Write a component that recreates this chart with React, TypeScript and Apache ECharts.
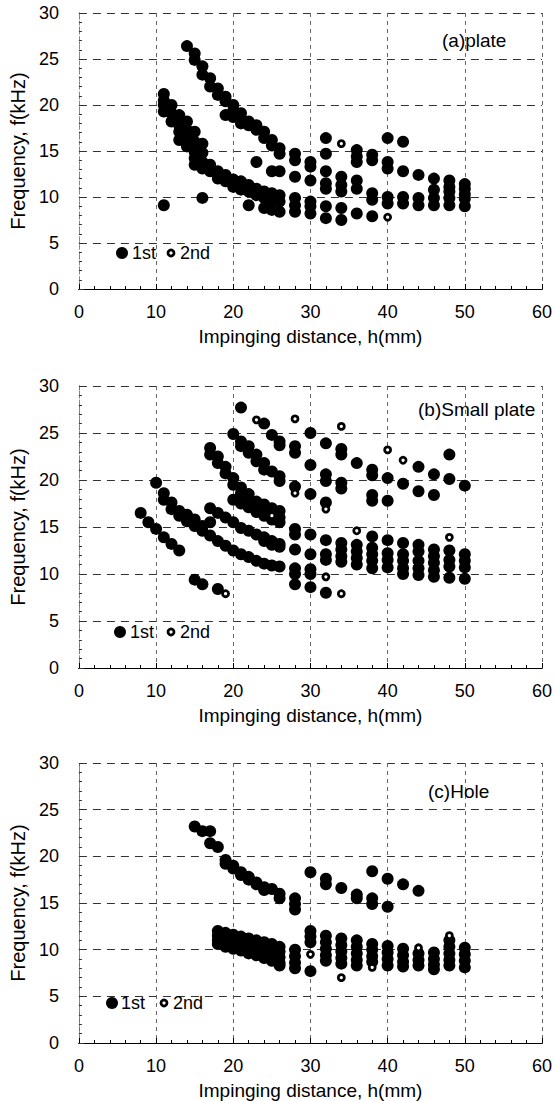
import React, { useEffect, useRef } from "react";
import * as echarts from "echarts";

type Pt = [number, number];

// ---------- data: (a) plate ----------
const aFirst: Pt[] = [
  [14, 26.4], [15, 25.6], [15, 24.9], [16, 24.2], [16, 23.3], [17, 22.9], [17, 22.0], [18, 21.8], [18, 21.1],
  [19, 20.9], [19, 20.4], [20, 20.0], [20, 19.4], [21, 19.1], [21, 18.5], [22, 18.2], [22, 17.8], [23, 17.8],
  [23, 17.3], [24, 17.1], [24, 16.4], [25, 16.2], [25, 15.6], [26, 15.3], [26, 14.7],
  [19, 18.9], [20, 18.7], [21, 18.0],
  [11, 21.2], [11, 20.5], [11, 20.0], [11, 19.3], [12, 20.0], [12, 19.1], [12, 18.2], [13, 18.9], [13, 17.8],
  [13, 17.1], [13, 16.2], [14, 18.2], [14, 17.3], [14, 16.4], [14, 15.5], [15, 17.1], [15, 16.0], [15, 14.9],
  [15, 14.2], [15, 13.5], [16, 15.8], [16, 14.8], [16, 13.8], [16, 13.1], [17, 13.5], [17, 12.8], [18, 12.8],
  [18, 12.0], [19, 12.4], [19, 11.7], [20, 11.9], [20, 11.1], [21, 11.7], [21, 10.8], [22, 11.3], [22, 10.6],
  [22, 9.1], [23, 10.9], [23, 10.2], [24, 10.6], [24, 9.9], [24, 8.8], [25, 10.4], [25, 9.7], [25, 8.6],
  [26, 10.2], [26, 9.5], [26, 8.4],
  [11, 9.1], [16, 9.9], [23, 13.8], [25, 12.8], [26, 12.8],
  [28, 14.7], [28, 14.0], [28, 12.2], [28, 9.9], [28, 9.1], [28, 8.4],
  [30, 13.8], [30, 13.3], [30, 11.8], [30, 9.5], [30, 9.0], [30, 8.2],
  [32, 16.4], [32, 14.7], [32, 12.8], [32, 11.5], [32, 10.9], [32, 9.0], [32, 7.7],
  [34, 12.2], [34, 11.3], [34, 10.6], [34, 8.8], [34, 7.5],
  [36, 15.1], [36, 14.4], [36, 13.8], [36, 11.8], [36, 10.9], [36, 8.2],
  [38, 14.6], [38, 14.0], [38, 10.4], [38, 9.7], [38, 7.9],
  [40, 16.4], [40, 13.8], [40, 13.1], [40, 10.0], [40, 9.3],
  [42, 16.0], [42, 12.8], [42, 10.0], [42, 9.3],
  [44, 12.4], [44, 9.9], [44, 9.1],
  [46, 12.0], [46, 10.8], [46, 9.9], [46, 9.1],
  [48, 11.8], [48, 11.1], [48, 10.6], [48, 9.9], [48, 9.1],
  [50, 11.4], [50, 10.9], [50, 10.3], [50, 9.8], [50, 9.0],
];
const aSecond: Pt[] = [[34, 15.8], [40, 7.8]];

// ---------- data: (b) Small plate ----------
const bFirst: Pt[] = [
  [21, 27.7], [24, 26.0], [25, 24.8], [26, 24.1], [26, 23.7],
  [20, 24.9], [21, 24.1], [21, 23.6], [22, 23.6], [22, 22.9], [23, 22.7], [23, 22.0], [24, 21.8], [24, 21.1],
  [25, 20.9], [26, 20.4], [26, 19.9],
  [28, 23.6], [28, 22.9], [28, 19.3], [30, 25.0], [30, 21.6], [30, 18.5], [32, 23.9], [32, 20.6], [32, 19.9],
  [32, 17.6], [34, 23.3], [34, 22.7], [34, 19.7], [34, 19.1], [36, 21.8], [38, 21.1], [38, 20.5], [38, 18.4],
  [38, 17.8], [40, 20.2], [40, 17.8], [42, 19.6], [44, 21.4], [44, 18.8], [46, 20.6], [46, 18.4], [48, 22.7],
  [48, 20.1], [50, 19.4],
  [17, 23.4], [17, 22.7], [18, 22.5], [18, 21.8], [19, 21.4], [19, 20.7], [20, 20.2], [20, 19.5], [21, 19.2],
  [21, 18.6], [22, 18.5], [22, 17.9], [23, 17.7], [23, 17.2], [24, 17.4], [24, 16.9], [25, 17.0], [25, 16.5],
  [26, 16.7], [26, 16.0], [26, 15.5],
  [20, 17.9], [21, 17.5], [22, 17.1], [23, 16.6], [24, 16.2], [25, 15.8],
  [10, 19.7], [11, 18.6], [11, 17.9], [12, 17.6], [12, 16.9], [13, 16.7], [13, 16.2], [14, 16.3], [14, 15.6],
  [15, 15.8], [15, 15.1], [16, 15.1], [16, 14.6], [17, 15.5], [17, 14.1], [18, 13.5], [19, 13.0], [20, 12.5],
  [21, 12.1], [22, 11.8], [23, 11.4], [24, 11.1], [25, 10.9], [26, 10.8],
  [17, 17.0], [18, 16.5], [19, 16.0], [20, 15.5], [21, 14.9], [22, 14.6], [23, 14.2], [24, 13.9], [25, 13.5],
  [26, 13.2], [24, 13.5], [25, 13.1], [26, 12.9],
  [8, 16.5], [9, 15.5], [10, 14.8], [11, 13.9], [12, 13.2], [13, 12.5],
  [15, 9.4], [16, 8.9], [18, 8.4],
  [28, 14.8], [28, 14.2], [28, 12.6], [28, 10.6], [28, 10.0], [28, 8.9],
  [30, 14.2], [30, 12.1], [30, 10.5], [30, 10.0], [30, 8.6],
  [32, 13.6], [32, 12.1], [32, 11.5], [32, 8.0],
  [34, 13.3], [34, 12.6], [34, 11.9], [34, 11.3],
  [36, 13.1], [36, 12.4], [36, 11.7], [36, 11.0],
  [38, 14.0], [38, 12.8], [38, 12.1], [38, 11.4], [38, 10.6],
  [40, 13.6], [40, 12.2], [40, 11.5], [40, 10.7],
  [42, 13.3], [42, 12.1], [42, 11.4], [42, 10.6], [42, 10.0],
  [44, 13.1], [44, 12.4], [44, 11.4], [44, 10.6], [44, 9.9],
  [46, 12.6], [46, 11.9], [46, 11.2], [46, 10.4], [46, 9.7],
  [48, 12.5], [48, 11.5], [48, 10.8], [48, 9.6],
  [50, 12.1], [50, 11.4], [50, 10.7], [50, 9.5],
];
const bSecond: Pt[] = [
  [23, 26.4], [28, 26.5], [34, 25.7], [40, 23.2], [42, 22.1], [28, 18.6], [32, 16.9], [25, 16.2],
  [36, 14.6], [48, 13.9], [32, 9.7], [34, 7.9], [19, 7.9],
];

// ---------- data: (c) Hole ----------
const cFirst: Pt[] = [
  [15, 23.2], [16, 22.7], [17, 22.7], [17, 21.4], [18, 21.0], [19, 19.6], [19, 19.2], [20, 19.0], [20, 18.7],
  [21, 18.3], [21, 18.0], [22, 17.8], [22, 17.5], [23, 17.2], [23, 17.0], [24, 16.7], [24, 16.4], [25, 16.5],
  [26, 16.0], [26, 15.5],
  [28, 15.5], [28, 14.9], [28, 14.3], [30, 18.3], [32, 17.6], [32, 17.0], [34, 16.6], [36, 15.9], [36, 15.5],
  [38, 18.4], [38, 15.5], [38, 14.9], [40, 17.6], [40, 14.6], [42, 17.0], [44, 16.3],
  [18, 12.0], [18, 11.5], [18, 11.0], [18, 10.6],
  [19, 11.8], [19, 11.3], [19, 10.8], [19, 10.3],
  [20, 11.6], [20, 11.1], [20, 10.6], [20, 10.1],
  [21, 11.4], [21, 10.9], [21, 10.4], [21, 9.9],
  [22, 11.2], [22, 10.7], [22, 10.2], [22, 9.6],
  [23, 11.0], [23, 10.5], [23, 10.0], [23, 9.4],
  [24, 10.8], [24, 10.3], [24, 9.7], [24, 9.1],
  [25, 10.6], [25, 10.0], [25, 9.4], [25, 8.8],
  [26, 10.3], [26, 9.8], [26, 9.2], [26, 8.6], [26, 8.3],
  [28, 10.0], [28, 9.3], [28, 8.6], [28, 8.0],
  [30, 12.0], [30, 11.4], [30, 10.8], [30, 7.7],
  [32, 11.5], [32, 10.8], [32, 10.1], [32, 9.4], [32, 8.8],
  [34, 11.2], [34, 10.5], [34, 9.8], [34, 9.1], [34, 8.5],
  [36, 11.0], [36, 10.3], [36, 9.6], [36, 8.9], [36, 8.3],
  [38, 10.6], [38, 10.0], [38, 9.3], [38, 8.7],
  [40, 10.4], [40, 9.7], [40, 9.0], [40, 8.3],
  [42, 10.1], [42, 9.4], [42, 8.7], [42, 8.2],
  [44, 9.6], [44, 8.9], [44, 8.3],
  [46, 9.7], [46, 9.0], [46, 8.4], [46, 7.9],
  [48, 11.0], [48, 10.3], [48, 9.6], [48, 8.9], [48, 8.3],
  [50, 10.2], [50, 9.5], [50, 8.8], [50, 8.1],
];
const cSecond: Pt[] = [[30, 9.5], [34, 7.0], [38, 8.1], [44, 10.2], [48, 11.5]];

const panelLabels = ["(a)plate", "(b)Small plate", "(c)Hole"];
const legendNames = ["1st", "2nd"];
const xTitle = "Impinging distance, h(mm)";
const yTitle = "Frequency, f(kHz)";

const FONT = "'Liberation Sans', Arial, Helvetica, sans-serif";

export default function App() {
  const ref = useRef<HTMLDivElement>(null);
  useEffect(() => {
    if (!ref.current) return;
    const chart = echarts.init(ref.current, undefined, { renderer: "svg" });

    const grids = [
      { left: 76, top: 13, width: 469, height: 276 },
      { left: 76, top: 386, width: 469, height: 282 },
      { left: 76, top: 763, width: 469, height: 280 },
    ];
    const firsts = [aFirst, bFirst, cFirst];
    const seconds = [aSecond, bSecond, cSecond];
    const labelPos = [
      { x: 442, y: 42 },
      { x: 418, y: 411 },
      { x: 428, y: 793 },
    ];
    const legendPos = [
      { x: 122, y: 253, t1: 132, c2: 171, t2: 180 },
      { x: 120, y: 632, t1: 130, c2: 171, t2: 180 },
      { x: 112, y: 1003, t1: 121, c2: 164, t2: 173 },
    ];

    const xAxes: any[] = [];
    const yAxes: any[] = [];
    const series: any[] = [];
    const graphic: any[] = [];

    grids.forEach((g, i) => {
      xAxes.push({
        gridIndex: i,
        type: "value",
        min: 0,
        max: 60,
        interval: 10,
        axisLine: { show: true, lineStyle: { color: "#000", width: 1.2 } },
        axisTick: { show: true, inside: true, length: 5, lineStyle: { color: "#000" } },
        minorTick: { show: true, splitNumber: 5, length: 3, lineStyle: { color: "#000" } },
        axisLabel: { fontSize: 18, color: "#000", margin: 14, fontFamily: FONT },
        splitLine: { show: true, lineStyle: { color: "#666", type: [4, 4], width: 1 } },
        name: xTitle,
        nameLocation: "middle",
        nameGap: 38,
        nameTextStyle: { fontSize: 19, color: "#000", fontFamily: FONT },
      });
      xAxes.push({
        gridIndex: i,
        type: "value",
        position: "top",
        min: 0,
        max: 60,
        interval: 10,
        axisLine: { show: true, lineStyle: { color: "#000", width: 1.2 } },
        axisTick: { show: false },
        axisLabel: { show: false },
        splitLine: { show: false },
      });
      yAxes.push({
        gridIndex: i,
        type: "value",
        min: 0,
        max: 30,
        interval: 5,
        axisLine: { show: true, lineStyle: { color: "#777", type: [2, 3], width: 1 } },
        axisTick: { show: true, inside: true, length: 5, lineStyle: { color: "#333" } },
        minorTick: { show: true, splitNumber: 5, length: 3, lineStyle: { color: "#333" } },
        axisLabel: { fontSize: 18, color: "#000", margin: 20, fontFamily: FONT },
        splitLine: { show: true, lineStyle: { color: "#333", type: [8, 6], width: 1 } },
        name: yTitle,
        nameLocation: "middle",
        nameGap: 46,
        nameTextStyle: { fontSize: 20, color: "#000", fontFamily: FONT },
      });
      yAxes.push({
        gridIndex: i,
        type: "value",
        position: "right",
        min: 0,
        max: 30,
        interval: 5,
        axisLine: { show: true, lineStyle: { color: "#888", type: [4, 4], width: 1 } },
        axisTick: { show: false },
        axisLabel: { show: false },
        splitLine: { show: false },
      });
      series.push({
        type: "scatter",
        name: legendNames[0],
        xAxisIndex: 2 * i,
        yAxisIndex: 2 * i,
        data: firsts[i],
        symbol: "circle",
        symbolSize: 12,
        itemStyle: { color: "#000", opacity: 1 },
        z: 3,
      });
      series.push({
        type: "scatter",
        name: legendNames[1],
        xAxisIndex: 2 * i,
        yAxisIndex: 2 * i,
        data: seconds[i],
        symbol: "circle",
        symbolSize: 6,
        itemStyle: { color: "#fff", borderColor: "#000", borderWidth: 2.8, opacity: 1 },
        z: 4,
      });
      graphic.push({
        type: "text",
        left: labelPos[i].x,
        top: labelPos[i].y - 11,
        style: { text: panelLabels[i], fontSize: 19, fill: "#000", fontFamily: FONT },
        z: 10,
      });
      const lp = legendPos[i];
      graphic.push({
        type: "circle",
        shape: { cx: lp.x, cy: lp.y, r: 6 },
        style: { fill: "#000" },
        z: 10,
      });
      graphic.push({
        type: "text",
        x: lp.t1,
        y: lp.y,
        style: { text: legendNames[0], fontSize: 18, fill: "#000", fontFamily: FONT, verticalAlign: "middle" },
        z: 10,
      });
      graphic.push({
        type: "circle",
        shape: { cx: lp.c2, cy: lp.y, r: 3 },
        style: { fill: "#fff", stroke: "#000", lineWidth: 2.8 },
        z: 10,
      });
      graphic.push({
        type: "text",
        x: lp.t2,
        y: lp.y,
        style: { text: legendNames[1], fontSize: 18, fill: "#000", fontFamily: FONT, verticalAlign: "middle" },
        z: 10,
      });
    });

    chart.setOption({
      animation: false,
      backgroundColor: "#fff",
      grid: grids,
      xAxis: xAxes,
      yAxis: yAxes,
      series,
      graphic,
    });
    return () => chart.dispose();
  }, []);

  return (
    <div
      ref={ref}
      style={{ position: "fixed", left: 0, top: 0, width: 555, height: 1101, background: "#fff" }}
    />
  );
}
